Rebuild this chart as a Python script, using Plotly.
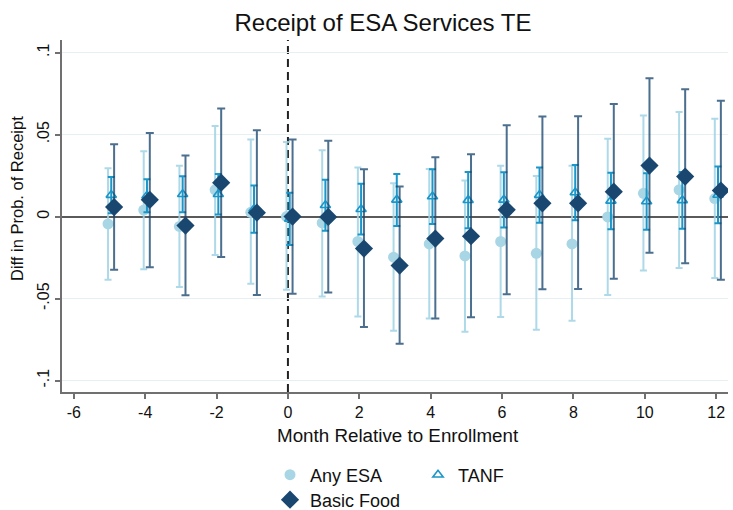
import plotly.graph_objects as go

# Event-time grid (months relative to enrollment)
months = [-5, -4, -3, -2, -1, 0, 1, 2, 3, 4, 5, 6, 7, 8, 9, 10, 11, 12]

# Any ESA: point estimate and 95% CI bounds
esa_est = [-0.0045, 0.0040, -0.0060, 0.0163, 0.0026, 0.0000, -0.0039, -0.0152, -0.0248,
           -0.0167, -0.0240, -0.0152, -0.0224, -0.0167, -0.0002, 0.0142, 0.0163, 0.0110]
esa_lo = [-0.0386, -0.0321, -0.0430, -0.0234, -0.0410, -0.0447, -0.0488, -0.0610, -0.0697,
          -0.0622, -0.0703, -0.0612, -0.0691, -0.0636, -0.0478, -0.0329, -0.0313, -0.0374]
esa_hi = [0.0295, 0.0398, 0.0310, 0.0553, 0.0470, 0.0455, 0.0404, 0.0300, 0.0203,
          0.0290, 0.0220, 0.0310, 0.0248, 0.0310, 0.0474, 0.0616, 0.0638, 0.0596]

# TANF
tanf_est = [0.0131, 0.0127, 0.0136, 0.0136, 0.0046, -0.0014, 0.0069, 0.0045, 0.0102,
            0.0122, 0.0100, 0.0102, 0.0131, 0.0147, 0.0096, 0.0092, 0.0099, 0.0132]
tanf_lo = [0.0020, 0.0026, 0.0026, 0.0012, -0.0098, -0.0173, -0.0087, -0.0110, -0.0057,
           -0.0045, -0.0071, -0.0067, -0.0037, -0.0022, -0.0077, -0.0081, -0.0075, -0.0041]
tanf_hi = [0.0242, 0.0228, 0.0246, 0.0260, 0.0189, 0.0146, 0.0224, 0.0200, 0.0260,
           0.0289, 0.0272, 0.0270, 0.0299, 0.0315, 0.0268, 0.0264, 0.0272, 0.0305]

# Basic Food
bf_est = [0.0058, 0.0102, -0.0055, 0.0207, 0.0024, 0.0000, -0.0002, -0.0195, -0.0299,
          -0.0134, -0.0120, 0.0041, 0.0081, 0.0081, 0.0152, 0.0311, 0.0244, 0.0159]
bf_lo = [-0.0325, -0.0309, -0.0480, -0.0246, -0.0478, -0.0470, -0.0463, -0.0673, -0.0776,
         -0.0622, -0.0614, -0.0474, -0.0443, -0.0441, -0.0380, -0.0220, -0.0285, -0.0386]
bf_hi = [0.0441, 0.0510, 0.0372, 0.0659, 0.0526, 0.0470, 0.0463, 0.0289, 0.0183,
         0.0362, 0.0380, 0.0557, 0.0610, 0.0612, 0.0687, 0.0843, 0.0776, 0.0707]

y_ticks = [-0.1, -0.05, 0, 0.05, 0.1]
y_tick_labels = ["-.1", "-.05", "0", ".05", ".1"]
x_ticks = [-6, -4, -2, 0, 2, 4, 6, 8, 10, 12]
x_tick_labels = ["-6", "-4", "-2", "0", "2", "4", "6", "8", "10", "12"]

FONT = "Liberation Sans, Arial, sans-serif"
C_ESA = "#a9d6e5"
C_ESA_BAR = "rgba(160,210,228,0.85)"
C_TANF = "#1a96c8"
C_BF = "#1a476f"
C_BF_BAR = "rgba(26,71,111,0.78)"


def shifted(xs, d):
    return [x + d for x in xs]


def err(est, lo, hi):
    return dict(type="data", symmetric=False,
                array=[h - e for e, h in zip(est, hi)],
                arrayminus=[e - l for e, l in zip(est, lo)])


fig = go.Figure()

fig.add_trace(go.Scatter(
    x=shifted(months, -0.04), y=esa_est, mode="markers", name="Any ESA",
    marker=dict(symbol="circle", size=11, color=C_ESA, line=dict(width=0)),
    error_y=dict(**err(esa_est, esa_lo, esa_hi), color=C_ESA_BAR, thickness=2, width=3.5),
    legend="legend",
))
fig.add_trace(go.Scatter(
    x=shifted(months, 0.05), y=tanf_est, mode="markers", name="TANF",
    marker=dict(symbol="triangle-up-open", size=9, color=C_TANF, line=dict(width=1.6, color=C_TANF)),
    error_y=dict(**err(tanf_est, tanf_lo, tanf_hi), color=C_TANF, thickness=2, width=3.5),
    legend="legend2",
))
fig.add_trace(go.Scatter(
    x=shifted(months, 0.13), y=bf_est, mode="markers", name="Basic Food",
    marker=dict(symbol="diamond", size=14, color=C_BF, line=dict(width=0)),
    error_y=dict(**err(bf_est, bf_lo, bf_hi), color=C_BF_BAR, thickness=2, width=4),
    legend="legend3",
))

# Enrollment month marker
fig.add_shape(type="line", xref="x", x0=0, x1=0, yref="paper", y0=0, y1=1,
              line=dict(color="#222222", width=2, dash="8px,5px"), layer="between")

W, H = 733, 510
L, R, T, B = 62, 5, 40, 118
pw, ph = W - L - R, H - T - B


def px_x(px):
    return (px - L) / pw


def px_y(py):
    return (H - B - py) / ph


legend_common = dict(font=dict(family=FONT, size=18, color="#111111"),
                     bgcolor="rgba(0,0,0,0)", xanchor="left", yanchor="middle",
                     itemclick=False, itemdoubleclick=False)

fig.update_layout(
    width=W, height=H,
    margin=dict(l=L, r=R, t=T, b=B, autoexpand=False),
    paper_bgcolor="white", plot_bgcolor="white",
    font=dict(family=FONT, color="#111111"),
    title=dict(text="Receipt of ESA Services TE", x=383 / W, xanchor="center",
               y=1 - 23 / H, yanchor="middle",
               font=dict(family=FONT, size=24, color="#111111")),
    xaxis=dict(range=[-6.33, 12.33], tickvals=x_ticks, ticktext=x_tick_labels,
               showgrid=False, zeroline=False,
               showline=True, linecolor="#707070", linewidth=2,
               ticks="outside", ticklen=5, tickcolor="#707070", tickwidth=1.5,
               tickfont=dict(family=FONT, size=16, color="#111111")),
    yaxis=dict(range=[-0.107, 0.1077], tickvals=y_ticks, ticktext=y_tick_labels,
               tickangle=-90, showgrid=True, gridcolor="#e6f0f3", gridwidth=1,
               zeroline=True, zerolinecolor="#5a5a5a", zerolinewidth=1.5,
               showline=True, linecolor="#707070", linewidth=2,
               ticks="outside", ticklen=5, tickcolor="#707070", tickwidth=1.5,
               tickfont=dict(family=FONT, size=16, color="#111111")),
    showlegend=True,
    legend=dict(**legend_common, x=px_x(270), y=px_y(475)),
    legend2=dict(**legend_common, x=px_x(418), y=px_y(475)),
    legend3=dict(**legend_common, x=px_x(270), y=px_y(500)),
    annotations=[
        dict(text="Month Relative to Enrollment", xref="paper", yref="paper",
             x=px_x(398), y=px_y(435), xanchor="center", yanchor="middle",
             showarrow=False, font=dict(family=FONT, size=18.8, color="#111111")),
        dict(text="Diff in Prob. of Receipt", xref="paper", yref="paper",
             x=px_x(17), y=px_y(199), xanchor="center", yanchor="middle", textangle=-90,
             showarrow=False, font=dict(family=FONT, size=16.5, color="#111111")),
    ],
)

fig.write_html("out.html")
